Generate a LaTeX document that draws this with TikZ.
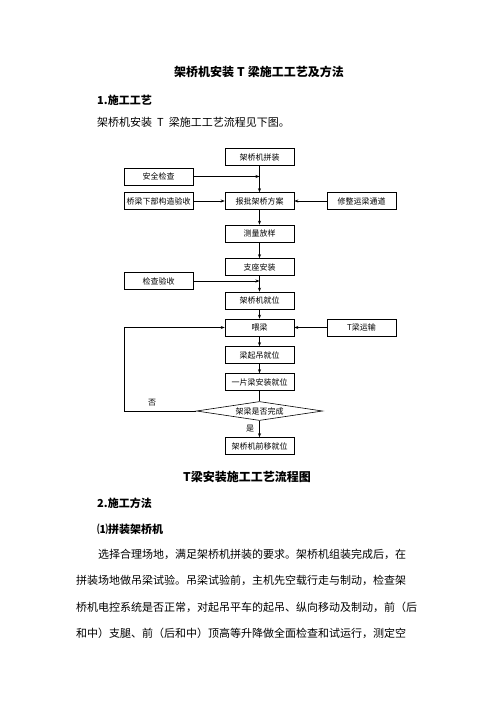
\documentclass[tikz,border=0pt]{standalone}
\usepackage{fontspec}
\setmainfont{Noto Sans CJK SC}
\usetikzlibrary{arrows.meta,shapes.geometric}
\XeTeXlinebreaklocale "zh"
\XeTeXlinebreakskip=0pt plus 3pt
\begin{document}
\begin{tikzpicture}[x=1pt,y=-1pt,
  box/.style={draw,line width=0.6pt,minimum width=69pt,minimum height=17pt,inner sep=0pt,font=\fontsize{8}{9}\selectfont},
  dia/.style={draw,diamond,aspect=6.6,line width=0.6pt,minimum width=126pt,minimum height=19pt,inner sep=0pt,font=\fontsize{8}{9}\selectfont},
  arr/.style={-{Stealth[length=4pt,width=3pt]},line width=0.6pt},
  ln/.style={line width=0.6pt},
  lbl/.style={inner sep=0pt,font=\fontsize{8}{9}\selectfont},
  head/.style={inner sep=0pt,font=\fontsize{12}{14}\selectfont\bfseries},
  sub/.style={inner sep=0pt,anchor=west,font=\fontsize{11}{13}\selectfont\bfseries},
  body/.style={inner sep=0pt,anchor=west,font=\fontsize{11}{13}\selectfont}]
\useasboundingbox (0,0) rectangle (496,702);
\fill[white] (0,0) rectangle (496,702);

% headings
\node[head] (title) at (259,72) {架桥机安装\hspace{3pt}T\hspace{3pt}梁施工工艺及方法};
\node[sub] (h1) at (97,100) {1.施工工艺};
\node[body] (intro) at (97,122) {架桥机安装\hspace{5pt}T\hspace{5pt}梁施工工艺流程见下图。};

% flowchart
\node[box] (b1) at (259.5,157) {架桥机拼装};
\node[box] (s1) at (158.5,176.5) {安全检查};
\node[box] (s2) at (158.5,201) {桥梁下部构造验收};
\node[box] (b2) at (259.5,201) {报批架桥方案};
\node[box] (s3) at (361.5,201) {修整运梁通道};
\node[box] (b3) at (259.5,233.5) {测量放样};
\node[box] (b4) at (259.5,267) {支座安装};
\node[box] (s4) at (158.5,281) {检查验收};
\node[box] (b5) at (259.5,300.5) {架桥机就位};
\node[box] (b6) at (259.5,327.5) {喂梁};
\node[box] (s5) at (361.5,327.5) {T梁运输};
\node[box] (b7) at (259.5,355) {梁起吊就位};
\node[box] (b8) at (259.5,382) {一片梁安装就位};
\node[dia] (d1) at (259.5,411) {架梁是否完成};
\node[box] (b9) at (259.5,446) {架桥机前移就位};

\coordinate (m1) at (259.5,176.5);
\coordinate (m2) at (259.5,281);
\coordinate (c1) at (124,411);
\coordinate (c2) at (124,327.5);

\draw[arr] (b1) -- (b2);
\draw[arr] (s1) -- (m1);
\draw[arr] (s2) -- (b2);
\draw[arr] (s3) -- (b2);
\draw[arr] (b2) -- (b3);
\draw[arr] (b3) -- (b4);
\draw[arr] (b4) -- (b5);
\draw[arr] (s4) -- (m2);
\draw[arr] (b5) -- (b6);
\draw[arr] (s5) -- (b6);
\draw[arr] (b6) -- (b7);
\draw[arr] (b7) -- (b8);
\draw[ln] (b8) -- (d1);
\draw[arr] (d1) -- (b9);
\draw[arr] (d1.west) -- (c1) -- (c2) -- (b6.west);

\node[lbl] (no) at (152,403) {否};
\node[lbl] (yes) at (250,429) {是};

\node[head] (cap) at (247,477) {T梁安装施工工艺流程图};

% text below
\node[sub] (h2) at (97,503) {2.施工方法};
\node[sub] (h3) at (97,529) {⑴拼装架桥机};
\node[body] (p1) at (98,554) {\makebox[322pt][s]{选择合理场地，满足架桥机拼装的要求。架桥机组装完成后，在}};
\node[body] (p2) at (76,580) {\makebox[344pt][s]{拼装场地做吊梁试验。吊梁试验前，主机先空载行走与制动，检查架}};
\node[body] (p3) at (76,607) {\makebox[344pt][s]{桥机电控系统是否正常，对起吊平车的起吊、纵向移动及制动，前（后}};
\node[body] (p4) at (76,633) {\makebox[344pt][s]{和中）支腿、前（后和中）顶高等升降做全面检查和试运行，测定空}};
\end{tikzpicture}
\end{document}
